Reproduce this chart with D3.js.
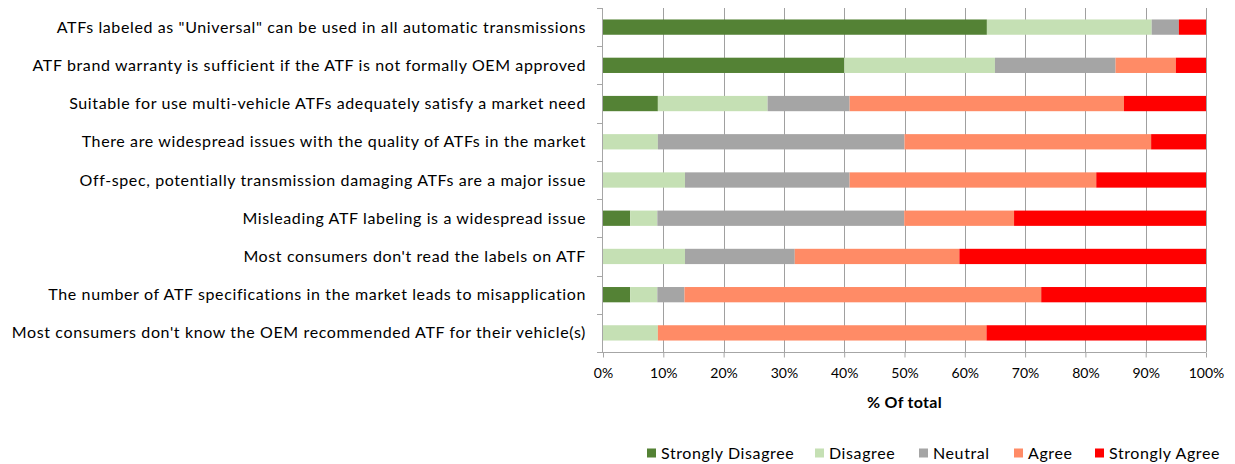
<!DOCTYPE html>
<html>
<head>
<meta charset="utf-8">
<script src="https://cdn.jsdelivr.net/npm/d3@7.9.0/dist/d3.min.js"></script>
<style>
  body { margin: 0; background: #fff; }
  svg { display: block; font-family: Lato, "Liberation Sans", sans-serif; }
</style>
</head>
<body>
<svg id="chart" width="1235" height="464"></svg>
<script>
const categories = [
  'ATFs labeled as "Universal" can be used in all automatic transmissions',
  "ATF brand warranty is sufficient if the ATF is not formally OEM approved",
  "Suitable for use multi-vehicle ATFs adequately satisfy a market need",
  "There are widespread issues with the quality of ATFs in the market",
  "Off-spec, potentially transmission damaging ATFs are a major issue",
  "Misleading ATF labeling is a widespread issue",
  "Most consumers don't read the labels on ATF",
  "The number of ATF specifications in the market leads to misapplication",
  "Most consumers don't know the OEM recommended ATF for their vehicle(s)"
];
const levels = ["Strongly Disagree", "Disagree", "Neutral", "Agree", "Strongly Agree"];
const stronglyDisagree = [63.6, 40, 9.1, 0, 0, 4.5, 0, 4.5, 0];
const disagree         = [27.3, 25, 18.2, 9.1, 13.6, 4.5, 13.6, 4.5, 9.1];
const neutral          = [4.5, 20, 13.6, 40.9, 27.3, 40.9, 18.2, 4.5, 0];
const agree            = [0, 10, 45.5, 40.9, 40.9, 18.2, 27.3, 59.1, 54.5];
const stronglyAgree    = [4.5, 5, 13.6, 9.1, 18.2, 31.8, 40.9, 27.3, 36.4];
const xTicks = [0, 0.1, 0.2, 0.3, 0.4, 0.5, 0.6, 0.7, 0.8, 0.9, 1];

const colors = ["#548235", "#c5e0b4", "#a5a5a5", "#ff8b66", "#ff0000"];
const series = [stronglyDisagree, disagree, neutral, agree, stronglyAgree];

const rows = categories.map((c, i) => {
  const r = { category: c };
  levels.forEach((l, j) => r[l] = series[j][i]);
  return r;
});

const svg = d3.select("#chart");
const plotLeft = 603, plotRight = 1206, plotTop = 8, plotBottom = 352;

const x = d3.scaleLinear().domain([0, 1]).range([plotLeft, plotRight]);
const y = d3.scaleBand().domain(categories).range([plotTop, plotBottom])
  .paddingInner(0.6).paddingOuter(0.3);
const color = d3.scaleOrdinal().domain(levels).range(colors);

const stacked = d3.stack().keys(levels).offset(d3.stackOffsetExpand)(rows);

// gridlines
svg.append("g")
  .selectAll("line")
  .data(xTicks.slice(1))
  .join("line")
  .attr("x1", d => Math.round(x(d)) + 0.5)
  .attr("x2", d => Math.round(x(d)) + 0.5)
  .attr("y1", plotTop)
  .attr("y2", plotBottom)
  .attr("stroke", "#a0a0a0");

// bars
svg.append("g")
  .selectAll("g")
  .data(stacked)
  .join("g")
  .attr("fill", d => color(d.key))
  .selectAll("rect")
  .data(d => d)
  .join("rect")
  .attr("x", d => x(d[0]))
  .attr("width", d => x(d[1]) - x(d[0]))
  .attr("y", d => y(d.data.category))
  .attr("height", y.bandwidth());

// x axis
const xAxis = svg.append("g")
  .attr("transform", `translate(0,${plotBottom + 0.5})`)
  .call(d3.axisBottom(x).tickValues(xTicks).tickFormat(d3.format(".0%"))
    .tickSizeInner(5).tickSizeOuter(0).tickPadding(11));
xAxis.select(".domain").attr("stroke", "#a6a6a6").attr("d", `M${plotLeft - 6},0H${plotRight}`);
xAxis.selectAll(".tick line").attr("stroke", "#a6a6a6");
xAxis.selectAll("text").attr("font-size", 14).attr("fill", "#000")
  .attr("font-family", "Lato, sans-serif");

// y axis, ticks at band boundaries
const yAxis = svg.append("g");
yAxis.append("line")
  .attr("x1", plotLeft - 0.5).attr("x2", plotLeft - 0.5)
  .attr("y1", plotTop).attr("y2", plotBottom)
  .attr("stroke", "#a6a6a6");
const bounds = d3.range(categories.length + 1)
  .map(i => plotTop + (plotBottom - plotTop) * i / categories.length);
yAxis.selectAll(".yt")
  .data(bounds)
  .join("line")
  .attr("class", "yt")
  .attr("x1", plotLeft - 6).attr("x2", plotLeft)
  .attr("y1", d => Math.round(d) + 0.5).attr("y2", d => Math.round(d) + 0.5)
  .attr("stroke", "#a6a6a6");
yAxis.selectAll("text")
  .data(categories)
  .join("text")
  .attr("x", plotLeft - 17)
  .attr("y", d => y(d) + y.bandwidth() / 2)
  .attr("dy", "0.35em")
  .attr("text-anchor", "end")
  .attr("font-size", 16)
  .attr("letter-spacing", 0.62)
  .text(d => d);

// axis title
svg.append("text")
  .attr("x", (plotLeft + plotRight) / 2)
  .attr("y", 408)
  .attr("text-anchor", "middle")
  .attr("font-size", 16)
  .attr("font-weight", "bold")
  .attr("letter-spacing", 0.3)
  .text("% Of total");

// legend
const legendX = [647, 815, 919, 1014, 1095];
const legend = svg.append("g")
  .selectAll("g")
  .data(levels)
  .join("g")
  .attr("transform", (d, i) => `translate(${legendX[i]},453)`);
legend.append("rect")
  .attr("x", 0).attr("y", -4.5)
  .attr("width", 9).attr("height", 9)
  .attr("fill", d => color(d));
legend.append("text")
  .attr("x", 14)
  .attr("dy", "0.35em")
  .attr("font-size", 16)
  .attr("letter-spacing", 0.6)
  .text(d => d);
</script>
</body>
</html>
